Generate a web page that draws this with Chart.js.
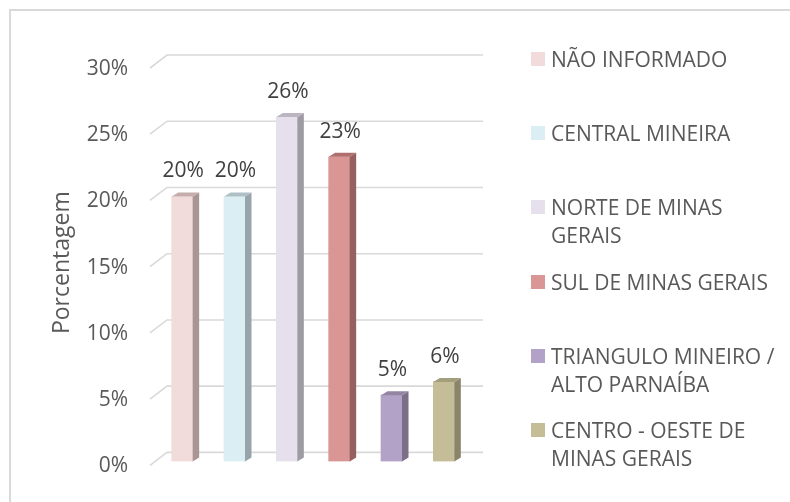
<!DOCTYPE html>
<html>
<head>
<meta charset="utf-8">
<script src="https://cdn.jsdelivr.net/npm/chart.js@4/dist/chart.umd.min.js"></script>
<style>
  body { margin: 0; background: #fff; }
  #wrap { position: relative; width: 790px; height: 502px; overflow: hidden; }
  #myChart { display: block; }
  #frame { position: absolute; left: 9px; top: 9px; width: 900px; height: 600px;
           border-top: 2px solid #d9d9d9; border-left: 2px solid #d9d9d9; }
  #legend { position: absolute; left: 0; top: 0; font-family: "Open Sans", sans-serif;
            font-size: 21px; color: #595959; }
  .item { position: absolute; left: 531px; white-space: nowrap; line-height: 28px; }
  .box { position: absolute; left: 0; top: 7px; width: 14px; height: 14px; }
  .txt { position: absolute; left: 20px; top: 0; }
</style>
</head>
<body>
<div id="wrap">
  <div id="frame"></div>
  <canvas id="myChart" width="790" height="502"></canvas>
  <div id="legend"></div>
</div>
<script>
// categories (legend lines) and values in %
let categories = [
    ['NÃO INFORMADO'],
    ['CENTRAL MINEIRA'],
    ['NORTE DE MINAS', 'GERAIS'],
    ['SUL DE MINAS GERAIS'],
    ['TRIANGULO MINEIRO /', 'ALTO PARNAÍBA'],
    ['CENTRO - OESTE DE', 'MINAS GERAIS']
];
let percentages = [20, 20, 26, 23, 5, 6];
let yTicks = [0, 5, 10, 15, 20, 25, 30];

// styles
const frontColors = ['#F2DCDB', '#DBEEF3', '#E6E0EC', '#D99694', '#B3A2C7', '#C4BD97'];
const sideColors  = ['#A89594', '#97A5AA', '#9F9BA5', '#976060', '#7C7089', '#8A856A'];
const topColors   = ['#C4ADAC', '#AFC0C5', '#BBB5C2', '#B06F6E', '#9485A5', '#A39E7C'];
const FONT = 'Open Sans';

// grid + 3d look for the bars, plus value labels
const fake3d = {
    id: 'fake3d',
    beforeDatasetsDraw(chart) {
        const ctx = chart.ctx;
        const y = chart.scales.y;
        ctx.save();
        ctx.strokeStyle = '#d9d9d9';
        ctx.lineWidth = 1.6;
        yTicks.forEach(v => {
            const py = y.getPixelForValue(v);
            ctx.beginPath();
            ctx.moveTo(150, py + 4);          // front end
            ctx.lineTo(167, py - 9);          // back wall
            ctx.lineTo(483, py - 9);
            ctx.stroke();
        });
        ctx.restore();
    },
    afterDatasetsDraw(chart) {
        const ctx = chart.ctx;
        const meta = chart.getDatasetMeta(0);
        const dx = 6.5, dy = 4;
        ctx.save();
        meta.data.forEach((bar, i) => {
            const r = bar.x + bar.width / 2;
            const l = bar.x - bar.width / 2;
            // side
            ctx.fillStyle = sideColors[i];
            ctx.beginPath();
            ctx.moveTo(r, bar.y);
            ctx.lineTo(r + dx, bar.y - dy);
            ctx.lineTo(r + dx, bar.base - dy);
            ctx.lineTo(r, bar.base);
            ctx.closePath();
            ctx.fill();
            // top
            ctx.fillStyle = topColors[i];
            ctx.beginPath();
            ctx.moveTo(l, bar.y);
            ctx.lineTo(l + dx, bar.y - dy);
            ctx.lineTo(r + dx, bar.y - dy);
            ctx.lineTo(r, bar.y);
            ctx.closePath();
            ctx.fill();
            // value label
            ctx.fillStyle = '#404040';
            ctx.font = '21px "' + FONT + '"';
            ctx.textAlign = 'center';
            ctx.textBaseline = 'middle';
            ctx.fillText(percentages[i] + '%', bar.x + 1, bar.y - 25);
        });
        ctx.restore();
    }
};

function loadChart() {
    let myChart_abc = document.getElementById('myChart').getContext('2d');

    new Chart(myChart_abc, {
        type: 'bar',
        data: {
            labels: categories,
            datasets: [{
                data: percentages,
                backgroundColor: frontColors,
                borderWidth: 0,
                barThickness: 21
            }]
        },
        options: {
            responsive: false,
            animation: false,
            layout: {
                padding: { left: 9, top: 64, right: 320, bottom: 33 }
            },
            plugins: {
                legend: { display: false },
                tooltip: { enabled: false }
            },
            scales: {
                x: {
                    display: false,
                    offset: true
                },
                y: {
                    min: 0,
                    max: 30,
                    afterFit(scale) { scale.width = 147; },
                    grid: { display: false, drawTicks: false },
                    border: { display: false },
                    ticks: {
                        stepSize: 5,
                        padding: 28,
                        labelOffset: 5,
                        color: '#595959',
                        font: { family: FONT, size: 21 },
                        callback: v => v + '%'
                    },
                    title: {
                        display: true,
                        text: 'Porcentagem',
                        color: '#595959',
                        font: { family: FONT, size: 23 },
                        padding: { top: 40, bottom: 0 }
                    }
                }
            }
        },
        plugins: [fake3d]
    });
}

function buildLegend() {
    const box = document.getElementById('legend');
    categories.forEach((lines, i) => {
        const item = document.createElement('div');
        item.className = 'item';
        item.style.top = (59 + i * 74.2 - 14) + 'px';
        item.innerHTML = '<div class="box" style="background:' + frontColors[i] + '"></div>' +
                         '<div class="txt">' + lines.join('<br>') + '</div>';
        box.appendChild(item);
    });
}

loadChart();
buildLegend();
</script>
</body>
</html>
